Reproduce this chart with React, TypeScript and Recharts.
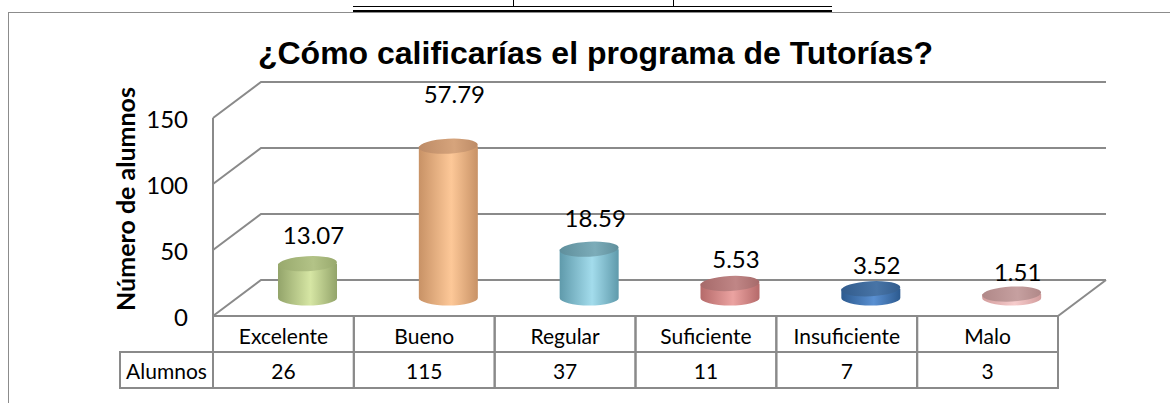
import React from 'react';
import { BarChart, Bar, XAxis, YAxis, CartesianGrid, LabelList } from 'recharts';

const categorias = ['Excelente', 'Bueno', 'Regular', 'Suficiente', 'Insuficiente', 'Malo'];
const alumnos = [26, 115, 37, 11, 7, 3];
const porcentajes = [13.07, 57.79, 18.59, 5.53, 3.52, 1.51];
const yTicks = [0, 50, 100, 150];

const data = categorias.map((categoria, i) => ({
  categoria,
  alumnos: alumnos[i],
  porcentaje: porcentajes[i],
}));

// colores de cada cilindro: lado, centro, tapa
const PALETA = [
  { lado: '#93a46a', centro: '#d6e6a4', tapa1: '#98a96d', tapa2: '#b3c387' },
  { lado: '#c89266', centro: '#fdc898', tapa1: '#bd8b66', tapa2: '#d6a47c' },
  { lado: '#5f9aab', centro: '#a3dcec', tapa1: '#5f8f9c', tapa2: '#7cacb9' },
  { lado: '#b56a6a', centro: '#eba3a1', tapa1: '#a66a6a', tapa2: '#c08686' },
  { lado: '#2c5a8f', centro: '#5a90d2', tapa1: '#325c8d', tapa2: '#4874a6' },
  { lado: '#d29c9c', centro: '#f6cccc', tapa1: '#b08888', tapa2: '#c6a0a0' },
];

const W = 1170;
const H = 403;
const MARGIN = { top: 100, right: 88, bottom: 75, left: 177 };
const YAXIS_W = 60;
const XAXIS_H = 30;
const DX = 48; // profundidad 3D
const DY = 36;
const PLOT_LEFT = MARGIN.left + YAXIS_W;
const PLOT_TOP = MARGIN.top;
const ZERO_Y = H - MARGIN.bottom - XAXIS_H;
const BAND = (W - PLOT_LEFT - MARGIN.right) / categorias.length;
const FRONT_LEFT = PLOT_LEFT - DX / 2;
const FRONT_Y = ZERO_Y + DY / 2;
const ROW_H = 36;
const LABEL_CELL_W = 93;
const BORDE = '#8a8a8a';
const FONT = 'Lato, "Open Sans", sans-serif';

const GridLine = (props: any) => {
  const { x1, y1, x2 } = props;
  const fx = x1 - DX / 2;
  const fy = y1 + DY / 2;
  const bx = x1 + DX / 2;
  const by = y1 - DY / 2;
  const esCero = Math.abs(y1 - ZERO_Y) < 1;
  return (
    <g>
      <path d={`M${fx},${fy} L${bx},${by} L${x2 + DX / 2},${by}`} fill="none" stroke={BORDE} strokeWidth={2} />
      {esCero && (
        <path
          d={`M${fx},${PLOT_TOP + DY / 2} L${fx},${fy} L${x2 - DX / 2},${fy} L${x2 + DX / 2},${by}`}
          fill="none"
          stroke={BORDE}
          strokeWidth={2}
        />
      )}
    </g>
  );
};

const Cilindro = (props: any) => {
  const { x, y, width, height, index } = props;
  const c = PALETA[index % PALETA.length];
  const rx = width / 2;
  const ry = 7.5;
  const cx = x + rx;
  const yb = y + height;
  return (
    <g>
      <defs>
        <linearGradient id={`cuerpo-${index}`} x1="0" y1="0" x2="1" y2="0">
          <stop offset="0%" stopColor={c.lado} />
          <stop offset="55%" stopColor={c.centro} />
          <stop offset="100%" stopColor={c.lado} />
        </linearGradient>
        <linearGradient id={`tapa-${index}`} x1="0" y1="0" x2="1" y2="0">
          <stop offset="0%" stopColor={c.tapa1} />
          <stop offset="60%" stopColor={c.tapa2} />
          <stop offset="100%" stopColor={c.tapa1} />
        </linearGradient>
      </defs>
      <path
        d={`M${x},${y} L${x},${yb} A${rx},${ry} 0 0 0 ${x + width},${yb} L${x + width},${y} Z`}
        fill={`url(#cuerpo-${index})`}
      />
      <ellipse cx={cx} cy={y} rx={rx} ry={ry} fill={`url(#tapa-${index})`} transform={`rotate(-3 ${cx} ${y})`} />
    </g>
  );
};

const Etiqueta = (props: any) => {
  const { x, y, width, height, value } = props;
  return (
    <text
      x={x + width / 2 + 6}
      y={y - (22 + 0.2 * height)}
      textAnchor="middle"
      dominantBaseline="central"
      fontFamily={FONT}
      fontSize={24}
      fill="#000"
    >
      {Number(value).toFixed(2)}
    </text>
  );
};

const YTick = (props: any) => {
  const { y, payload } = props;
  return (
    <text
      x={FRONT_LEFT - 25}
      y={y + DY / 2}
      textAnchor="end"
      dominantBaseline="central"
      fontFamily={FONT}
      fontSize={24}
      fill="#000"
    >
      {payload.value}
    </text>
  );
};

const TablaTick = (props: any) => {
  const { x, index, payload } = props;
  const left = x - BAND / 2 - DX / 2;
  const mid = left + BAND / 2;
  return (
    <g>
      {index === 0 && (
        <g>
          <rect
            x={left - LABEL_CELL_W}
            y={FRONT_Y + ROW_H}
            width={LABEL_CELL_W}
            height={ROW_H}
            fill="#fff"
            stroke={BORDE}
            strokeWidth={2}
          />
          <text
            x={left - LABEL_CELL_W / 2}
            y={FRONT_Y + ROW_H * 1.5}
            textAnchor="middle"
            dominantBaseline="central"
            fontFamily={FONT}
            fontSize={21}
            fill="#000"
          >
            Alumnos
          </text>
        </g>
      )}
      <rect x={left} y={FRONT_Y} width={BAND} height={ROW_H} fill="none" stroke={BORDE} strokeWidth={2} />
      <rect x={left} y={FRONT_Y + ROW_H} width={BAND} height={ROW_H} fill="none" stroke={BORDE} strokeWidth={2} />
      <text
        x={mid}
        y={FRONT_Y + ROW_H / 2 + 1}
        textAnchor="middle"
        dominantBaseline="central"
        fontFamily={FONT}
        fontSize={21}
        fill="#000"
      >
        {payload.value}
      </text>
      <text
        x={mid}
        y={FRONT_Y + ROW_H * 1.5}
        textAnchor="middle"
        dominantBaseline="central"
        fontFamily={FONT}
        fontSize={21}
        fill="#000"
      >
        {alumnos[index]}
      </text>
    </g>
  );
};

const TituloEje = () => (
  <text
    x={125}
    y={199}
    transform="rotate(-90 125 199)"
    textAnchor="middle"
    dominantBaseline="central"
    fontFamily={FONT}
    fontWeight="bold"
    fontSize={25}
    fill="#000"
  >
    Número de alumnos
  </text>
);

export default function App() {
  return (
    <div style={{ position: 'absolute', left: 0, top: 0, width: W, height: H, background: '#fff', overflow: 'hidden' }}>
      {/* restos de la tabla del documento */}
      <div style={{ position: 'absolute', left: 353, top: 5.5, width: 479, height: 1.7, background: '#000' }} />
      <div style={{ position: 'absolute', left: 353, top: 10, width: 479, height: 1.7, background: '#000' }} />
      <div style={{ position: 'absolute', left: 512.5, top: 0, width: 1.7, height: 6, background: '#000' }} />
      <div style={{ position: 'absolute', left: 672.5, top: 0, width: 1.7, height: 6, background: '#000' }} />
      {/* marco del gráfico */}
      <div style={{ position: 'absolute', left: 8, top: 12, width: W, height: H, borderLeft: '1px solid #8c8c8c', borderTop: '1px solid #8c8c8c' }} />
      <div
        style={{
          position: 'absolute',
          left: 595.5,
          top: 37,
          transform: 'translateX(-50%)',
          whiteSpace: 'nowrap',
          fontFamily: '"Liberation Sans", Arial, sans-serif',
          fontWeight: 'bold',
          fontSize: 32,
          lineHeight: 1,
          color: '#000',
        }}
      >
        ¿Cómo calificarías el programa de Tutorías?
      </div>
      <div style={{ position: 'absolute', left: 0, top: 0 }}>
        <BarChart width={W} height={H} data={data} margin={MARGIN} barSize={59}>
          <CartesianGrid horizontal={GridLine} vertical={false} />
          <YAxis
            width={YAXIS_W}
            domain={[0, 150]}
            ticks={yTicks}
            axisLine={false}
            tickLine={false}
            tick={YTick}
            label={TituloEje}
          />
          <XAxis
            dataKey="categoria"
            height={XAXIS_H}
            axisLine={false}
            tickLine={false}
            tick={TablaTick}
            interval={0}
          />
          <Bar dataKey="alumnos" shape={Cilindro} isAnimationActive={false}>
            <LabelList dataKey="porcentaje" content={Etiqueta} />
          </Bar>
        </BarChart>
      </div>
    </div>
  );
}
